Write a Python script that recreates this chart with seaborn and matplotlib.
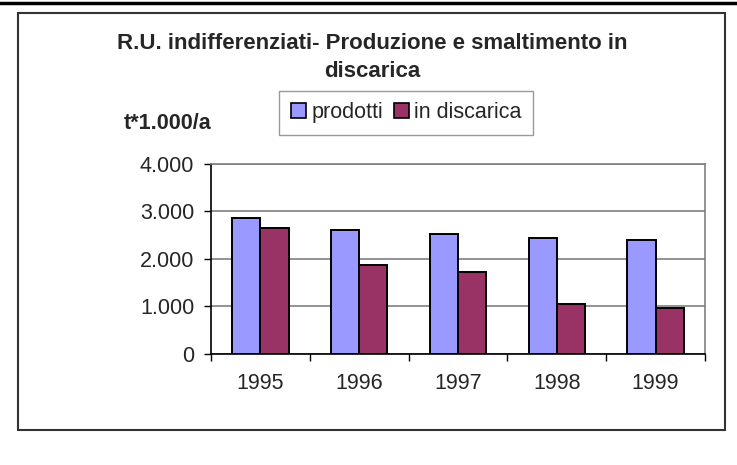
import pandas as pd
import matplotlib.pyplot as plt
import seaborn as sns
from matplotlib.patches import Rectangle
from matplotlib.lines import Line2D

# Data (t*1000/a)
years = ['1995', '1996', '1997', '1998', '1999']
prodotti = [2870, 2615, 2530, 2445, 2405]
in_discarica = [2660, 1860, 1730, 1055, 970]
series_names = ['prodotti', 'in discarica']
ytick_values = [0, 1000, 2000, 3000, 4000]
ytick_labels = ['0', '1.000', '2.000', '3.000', '4.000']

df = pd.DataFrame({
    'anno': years * 2,
    'serie': [series_names[0]] * len(years) + [series_names[1]] * len(years),
    'valore': prodotti + in_discarica,
})

sns.set_style('white')
plt.rcParams['font.family'] = ['Liberation Sans', 'DejaVu Sans']

fig = plt.figure(figsize=(7.37, 4.65), dpi=100)
ax = fig.add_axes([0.2863, 0.2394, 0.6703, 0.408])

palette = {'prodotti': '#9999FF', 'in discarica': '#993366'}
sns.barplot(data=df, x='anno', y='valore', hue='serie', palette=palette,
            width=0.57, edgecolor='black', linewidth=1.4, saturation=1,
            ax=ax, legend=False)

ax.set_ylim(0, 4000)
ax.set_xlim(-0.5, len(years) - 0.5)
ax.set_yticks(ytick_values)
ax.set_yticklabels(ytick_labels, fontsize=15.5)
ax.set_xticklabels(years, fontsize=15.5)
ax.set_xlabel('')
ax.set_ylabel('')

# gridlines and frame like the spreadsheet chart
ax.yaxis.grid(True, color='#808080', linewidth=1.2)
ax.set_axisbelow(True)
for side in ['top', 'right']:
    ax.spines[side].set_visible(True)
    ax.spines[side].set_color('#808080')
    ax.spines[side].set_linewidth(1.2)
for side in ['left', 'bottom']:
    ax.spines[side].set_color('black')
    ax.spines[side].set_linewidth(1.2)

ax.tick_params(axis='y', which='major', direction='out', length=5, width=1,
               color='black', left=True, pad=7)
ax.set_xticks([i - 0.5 for i in range(len(years) + 1)], minor=True)
ax.tick_params(axis='x', which='major', length=0, pad=14)
ax.tick_params(axis='x', which='minor', direction='out', length=5, width=1,
               color='black', bottom=True)

# title, unit label and legend
fig.text(0.5054, 0.907, 'R.U. indifferenziati- Produzione e smaltimento in',
         ha='center', va='center', fontsize=16, fontweight='bold')
fig.text(0.5054, 0.847, 'discarica', ha='center', va='center',
         fontsize=16, fontweight='bold')
fig.text(0.228, 0.735, 't*1.000/a', ha='center', va='center',
         fontsize=15.5, fontweight='bold')

handles = [Rectangle((0, 0), 1, 1, facecolor=palette[s], edgecolor='black',
                     linewidth=1.2) for s in series_names]
fig.legend(handles, series_names, loc='center', bbox_to_anchor=(0.551, 0.757),
           ncol=2, fontsize=15.5, frameon=True, fancybox=False,
           edgecolor='#808080', handlelength=0.7, handleheight=0.7,
           handletextpad=0.25, columnspacing=0.5, borderpad=0.55)

# outer chart border and top rule
fig.patches.append(Rectangle((18 / 737, 1 - 430 / 465), (725 - 18) / 737,
                             (430 - 13.5) / 465, transform=fig.transFigure,
                             fill=False, edgecolor='#333333', linewidth=1.5))
fig.lines.append(Line2D([0, 1], [1 - 3 / 465, 1 - 3 / 465],
                        transform=fig.transFigure, color='black', linewidth=2.5))

plt.savefig('out.png', dpi=100)
